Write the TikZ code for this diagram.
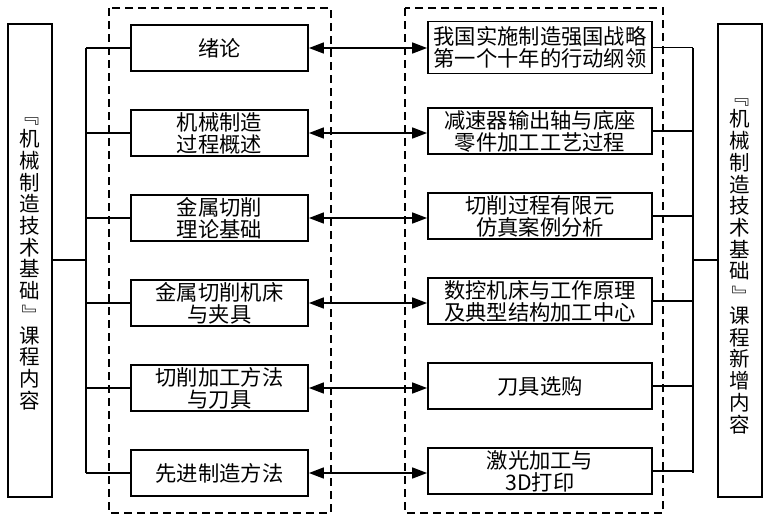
\documentclass[tikz,border=0pt]{standalone}
\usepackage{fontspec}
\newfontfamily\cjk{Noto Sans CJK SC}
\usetikzlibrary{arrows.meta}
\newcommand\vopen{\rotatebox[origin=c]{-90}{『}}
\newcommand\vclose{\rotatebox[origin=c]{-90}{』}}
\begin{document}
\begin{tikzpicture}[x=1pt,y=-1pt,
  box/.style={draw,line width=1.8pt,inner sep=0pt,align=center,
    font=\cjk\fontsize{21.3}{22}\selectfont},
  lbox/.style={box,minimum width=177pt,minimum height=46pt},
  rbox/.style={box,minimum width=224pt,minimum height=46pt},
  outer/.style={draw,line width=1.8pt,inner sep=0pt,minimum width=44pt,minimum height=473pt},
  vtext/.style={align=center,inner sep=0pt,font=\cjk\fontsize{20.5}{21.7}\selectfont},
  dbox/.style={draw,dashed,line width=1.6pt,dash pattern=on 8pt off 5pt},
  conn/.style={line width=1.6pt},
  biarrow/.style={line width=1.6pt,{Triangle[length=15pt,width=11pt]}-{Triangle[length=15pt,width=11pt]}}
]
\useasboundingbox (0,0) rectangle (765,515);
% dashed groups
\draw[dbox] (109,8) rectangle (331,513);
\draw[dbox] (405,8) rectangle (663,513);
% outer boxes
\node[outer] (L) at (30,260.5) {};
\node[vtext] (Lt) at (30,258) {\vopen\\机\\械\\制\\造\\技\\术\\基\\础\\\vclose\\课\\程\\内\\容};
\node[outer] (R) at (740,260.5) {};
\node[vtext] (Rt) at (740,260) {\vopen\\机\\械\\制\\造\\技\\术\\基\\础\\\vclose\\课\\程\\新\\增\\内\\容};
% left nodes
\node[lbox] (a1) at (219.5,48) {绪论};
\node[lbox] (a2) at (219.5,133) {机械制造\\过程概述};
\node[lbox] (a3) at (219.5,218) {金属切削\\理论基础};
\node[lbox] (a4) at (219.5,303) {金属切削机床\\与夹具};
\node[lbox] (a5) at (219.5,388) {切削加工方法\\与刀具};
\node[lbox] (a6) at (219.5,473) {先进制造方法};
% right nodes
\node[rbox,minimum height=52pt] (b1) at (540,47.5) {我国实施制造强国战略\\第一个十年的行动纲领};
\node[rbox] (b2) at (540,131) {减速器输出轴与底座\\零件加工工艺过程};
\node[rbox] (b3) at (540,216) {切削过程有限元\\仿真案例分析};
\node[rbox] (b4) at (540,301) {数控机床与工作原理\\及典型结构加工中心};
\node[rbox] (b5) at (540,386) {刀具选购};
\node[rbox] (b6) at (540,471) {激光加工与\\3D打印};
% buses
\coordinate (lb1) at (86,48);
\coordinate (lb6) at (86,473);
\coordinate (lbm) at (86,260);
\coordinate (rb1) at (693,48);
\coordinate (rb6) at (693,473);
\coordinate (rbm) at (693,260);
\draw[conn] (lb1) -- (lb6);
\draw[conn] (rb1) -- (rb6);
\draw[conn] (L.east |- lbm) -- (lbm);
\draw[conn] (rbm) -- (R.west |- rbm);
\foreach \i in {1,...,6}{
  \draw[conn] (lb1 |- a\i.west) -- (a\i.west);
  \draw[conn] (b\i.east) -- (rb1 |- b\i.east);
  \draw[biarrow] (a\i.east) -- (a\i.east -| b\i.west);
}
\end{tikzpicture}
\end{document}
